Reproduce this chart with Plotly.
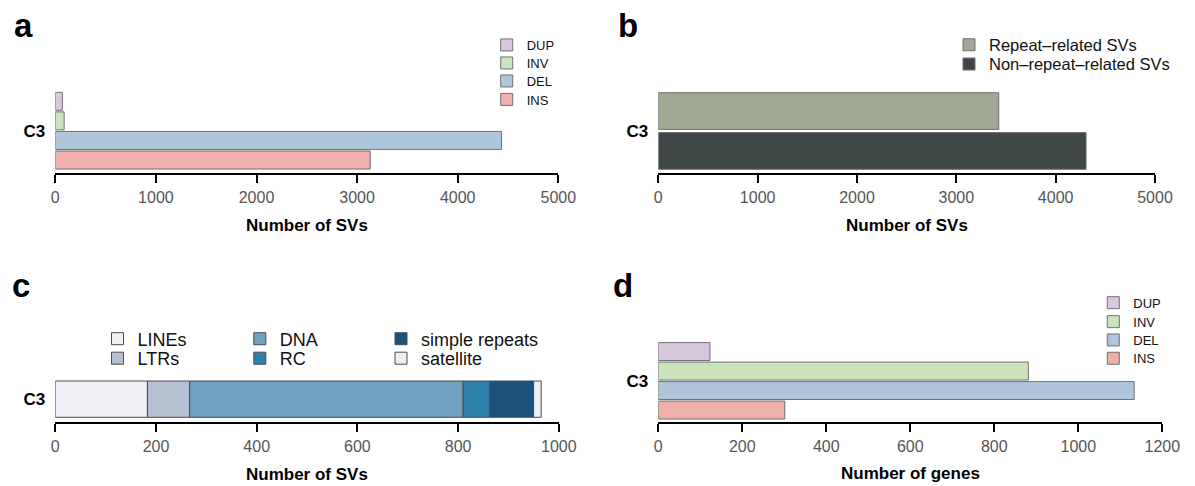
import numpy as np
import plotly.graph_objects as go

W, H = 1195, 486
FONT = "Liberation Sans, Arial, Helvetica, sans-serif"

# ---------------- data ----------------
sample = ["C3"]

# panel a: number of SVs by type (bottom -> top)
sv_types = ["INS", "DEL", "INV", "DUP"]
sv_counts = [3130, 4436, 88, 70]

# panel b: repeat related vs not (bottom -> top)
rep_labels = ["Non\u2013repeat\u2013related SVs", "Repeat\u2013related SVs"]
rep_counts = [4306, 3427]

# panel c: repeat classes (stacked, left -> right)
te_classes = ["LINEs", "LTRs", "DNA", "RC", "simple repeats", "satellite"]
te_counts = [183, 84, 543, 53, 87, 15]

# panel d: number of genes by SV type (bottom -> top)
gene_counts = [301, 1133, 881, 123]

# tick labels
ticks_a = [0, 1000, 2000, 3000, 4000, 5000]
ticks_c = [0, 200, 400, 600, 800, 1000]
ticks_d = [0, 200, 400, 600, 800, 1000, 1200]

# ---------------- styles ----------------
sv_colors = {"INS": "#EFAFAA", "DEL": "#AFC6DA", "INV": "#CCE4BE", "DUP": "#D9C8DD"}
rep_colors = ["#3F4646", "#A1A994"]
te_colors = ["#F0EFF5", "#B5C0D3", "#70A3C2", "#2D81AC", "#1C527E", "#F0EFF5"]

BARGAP = 0.2
GROUPGAP = 0.08


def xdom(p0, p1):
    return [p0 / W, p1 / W]


def ydom(top, bottom):
    return [1 - bottom / H, 1 - top / H]


def yrange(n, bar_top, bar_bot, dom_top, dom_bot):
    slot = (1 - BARGAP) / n
    e = (1 - BARGAP) / 2 - slot * GROUPGAP / 2
    scale = (bar_bot - bar_top) / (2 * e)
    return [-e - (dom_bot - bar_bot) / scale, e + (bar_top - dom_top) / scale]


fig = go.Figure()

legends = {}
lid = [0]


def new_legend(left, cy, size):
    lid[0] += 1
    name = "legend" if lid[0] == 1 else f"legend{lid[0]}"
    legends[name] = dict(
        x=left / W, y=1 - cy / H, xanchor="left", yanchor="middle",
        bgcolor="rgba(0,0,0,0)", borderwidth=0, visible=True,
        font=dict(family=FONT, size=size, color="#111"),
        itemclick=False, itemdoubleclick=False,
    )
    return name


# ----- panel a -----
leg_a_rows = {"DUP": 45, "INV": 63, "DEL": 81, "INS": 99.5}
for t, v in zip(sv_types, sv_counts):
    fig.add_trace(go.Bar(
        x=[v], y=sample, orientation="h", name=t, showlegend=True,
        marker=dict(color=sv_colors[t], line=dict(color="#707070", width=1)),
        xaxis="x", yaxis="y",
        legend=new_legend(486.7, leg_a_rows[t], 13),
    ))

# ----- panel b -----
leg_b_rows = [64.3, 45]
for lab, v, c, r in zip(rep_labels, rep_counts, rep_colors, leg_b_rows):
    fig.add_trace(go.Bar(
        x=[v], y=sample, orientation="h", name=lab, showlegend=True,
        marker=dict(color=c, line=dict(color="#707070", width=1)),
        xaxis="x2", yaxis="y2",
        legend=new_legend(949, r, 16.5),
    ))

# ----- panel c (stacked via base) -----
bases = np.concatenate([[0], np.cumsum(te_counts)[:-1]])
leg_c_pos = [(97.5, 339), (97.5, 358.5), (239.8, 339), (239.8, 358.5), (381, 339), (381, 358.5)]
for lab, v, b, c, (lx, ly) in zip(te_classes, te_counts, bases, te_colors, leg_c_pos):
    fig.add_trace(go.Bar(
        x=[v], base=[int(b)], y=sample, orientation="h", name=lab, showlegend=True,
        offsetgroup="c",
        marker=dict(color=c, line=dict(color="#4a4a4a", width=1)),
        xaxis="x3", yaxis="y3",
        legend=new_legend(lx, ly, 18),
    ))

# ----- panel d -----
leg_d_rows = {"DUP": 302.7, "INV": 321.7, "DEL": 340, "INS": 358.3}
for t, v in zip(sv_types, gene_counts):
    fig.add_trace(go.Bar(
        x=[v], y=sample, orientation="h", name=t, showlegend=True,
        marker=dict(color=sv_colors[t], line=dict(color="#707070", width=1)),
        xaxis="x4", yaxis="y4",
        legend=new_legend(1093.3, leg_d_rows[t], 13),
    ))

tickfont = dict(family=FONT, size=16, color="#555")
xcommon = dict(showgrid=False, zeroline=False, showline=True, linecolor="black",
               linewidth=2, ticks="outside", ticklen=8, tickwidth=2,
               tickcolor="black", tickfont=tickfont, fixedrange=True)
ycommon = dict(type="category", showgrid=False, zeroline=False, showline=False,
               ticks="", ticklabelstandoff=9,
               tickfont=dict(family=FONT, size=17, color="black", weight="bold"),
               fixedrange=True)

TOP_DOM_TOP, TOP_DOM_BOT = 91.3, 173.3
BOT_DOM_TOP, BOT_DOM_BOT = 340.0, 422.3

fig.update_layout(
    width=W, height=H, showlegend=True,
    margin=dict(l=0, r=0, t=0, b=0, pad=0, autoexpand=False),
    paper_bgcolor="white", plot_bgcolor="white",
    barmode="group", bargap=BARGAP, bargroupgap=GROUPGAP,
    font=dict(family=FONT),
    xaxis=dict(xcommon, domain=xdom(55.3, 558.3), range=[0, 5000], tickvals=ticks_a, anchor="y"),
    yaxis=dict(ycommon, domain=ydom(TOP_DOM_TOP, TOP_DOM_BOT),
               range=yrange(4, 92.3, 169.0, TOP_DOM_TOP, TOP_DOM_BOT), anchor="x"),
    xaxis2=dict(xcommon, domain=xdom(658.3, 1155.0), range=[0, 5000], tickvals=ticks_a, anchor="y2"),
    yaxis2=dict(ycommon, domain=ydom(TOP_DOM_TOP, TOP_DOM_BOT),
                range=yrange(2, 92.7, 169.3, TOP_DOM_TOP, TOP_DOM_BOT), anchor="x2"),
    xaxis3=dict(xcommon, domain=xdom(55.3, 558.8), range=[0, 1000], tickvals=ticks_c, anchor="y3"),
    yaxis3=dict(ycommon, domain=ydom(379.0, BOT_DOM_BOT),
                range=yrange(1, 381.0, 417.3, 379.0, BOT_DOM_BOT), anchor="x3"),
    xaxis4=dict(xcommon, domain=xdom(658.3, 1162.3), range=[0, 1200], tickvals=ticks_d, anchor="y4"),
    yaxis4=dict(ycommon, domain=ydom(BOT_DOM_TOP, BOT_DOM_BOT),
                range=yrange(4, 342.6, 419.0, BOT_DOM_TOP, BOT_DOM_BOT), anchor="x4"),
    **legends,
)

# panel letters
for letter, px, py in [("a", 12, 26), ("b", 616, 26), ("c", 10, 285), ("d", 611, 285)]:
    fig.add_annotation(text=letter, x=px / W, y=1 - py / H, xref="paper", yref="paper",
                       xanchor="left", yanchor="middle", showarrow=False,
                       font=dict(family=FONT, size=33, color="black", weight="bold"))

# axis titles
for txt, px, py in [("Number of SVs", 306.8, 225), ("Number of SVs", 906.7, 225),
                    ("Number of SVs", 307.0, 474.5), ("Number of genes", 910.3, 473)]:
    fig.add_annotation(text=txt, x=px / W, y=1 - py / H, xref="paper", yref="paper",
                       xanchor="center", yanchor="middle", showarrow=False,
                       font=dict(family=FONT, size=17, color="black", weight="bold"))

fig.write_html("out.html")
